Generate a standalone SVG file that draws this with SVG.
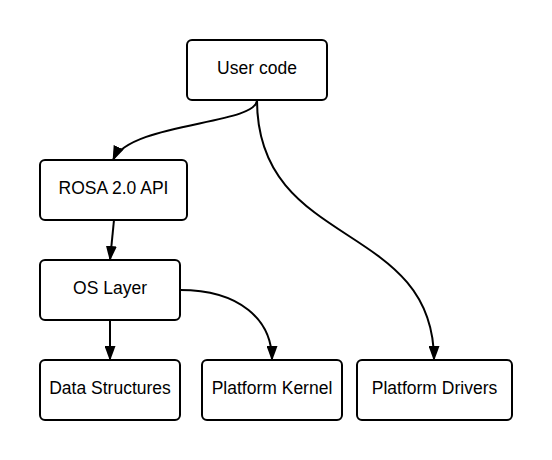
<svg xmlns="http://www.w3.org/2000/svg" width="552" height="460" viewBox="0 0 552 460">
<style>
.box{fill:#fff;stroke:#000;stroke-width:2}
.lbl{font-family:"Liberation Sans",Arial,sans-serif;font-size:17.5px;fill:#000;text-anchor:middle}
.edge{fill:none;stroke:#000;stroke-width:2;marker-end:url(#arr)}
</style>
<defs>
<marker id="arr" markerWidth="15" markerHeight="11" refX="14" refY="5.5" orient="auto" markerUnits="userSpaceOnUse" viewBox="0 0 15 11">
<path d="M0,0 L15,5.5 L0,11 Z" fill="#000"/>
</marker>
</defs>
<rect width="552" height="460" fill="#fff"/>
<g id="connectors">
<path class="edge" d="M257,100 C257,125 130,122 113,160"/>
<path class="edge" d="M257,100 C257,250 434,220 434,360"/>
<path class="edge" d="M114,220 L110,260"/>
<path class="edge" d="M110,320 L110,360"/>
<path class="edge" d="M180,290 C240,290 272,320 272,360"/>
</g>
<g id="user-code"><rect class="box" x="187" y="40" width="140" height="60" rx="5"/><text class="lbl" x="257" y="74">User code</text></g>
<g id="rosa-api"><rect class="box" x="40" y="160" width="147" height="60" rx="5"/><text class="lbl" x="113.5" y="194">ROSA 2.0 API</text></g>
<g id="os-layer"><rect class="box" x="40" y="260" width="140" height="60" rx="5"/><text class="lbl" x="110" y="294">OS Layer</text></g>
<g id="data-structures"><rect class="box" x="40" y="360" width="140" height="60" rx="5"/><text class="lbl" x="110" y="394">Data Structures</text></g>
<g id="platform-kernel"><rect class="box" x="202" y="360" width="140" height="60" rx="5"/><text class="lbl" x="272" y="394">Platform Kernel</text></g>
<g id="platform-drivers"><rect class="box" x="357" y="360" width="155" height="60" rx="5"/><text class="lbl" x="434.5" y="394">Platform Drivers</text></g>
</svg>
